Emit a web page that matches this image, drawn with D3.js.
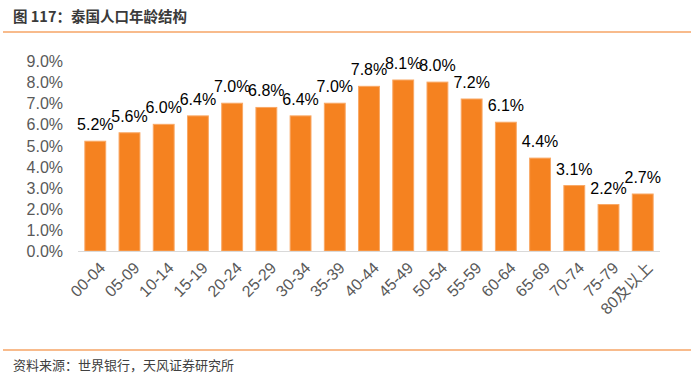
<!DOCTYPE html>
<html><head><meta charset="utf-8">
<script src="https://cdn.jsdelivr.net/npm/d3@7"></script>
<style>body{margin:0;background:#fff}svg{display:block}</style>
</head><body><svg id="c" width="700" height="379"></svg>
<script>
const categories = ["00-04","05-09","10-14","15-19","20-24","25-29","30-34","35-39","40-44","45-49","50-54","55-59","60-64","65-69","70-74","75-79","80及以上"];
const values = [5.2,5.6,6.0,6.4,7.0,6.8,6.4,7.0,7.8,8.1,8.0,7.2,6.1,4.4,3.1,2.2,2.7];
const yTicks = [0,1,2,3,4,5,6,7,8,9];
const title = "图 117：泰国人口年龄结构";
const source = "资料来源：世界银行，天风证券研究所";

const svg = d3.select("#c");
const latin = "'Liberation Sans', Arial, 'Noto Sans CJK SC', sans-serif";
const cjk = "'Noto Sans CJK SC', 'Liberation Sans', sans-serif";

// header / footer
svg.append("text").attr("x",13).attr("y",22).attr("font-family",cjk).attr("font-weight","bold")
  .attr("font-size",14.5).attr("fill","#3a3a3a").text(title);
svg.append("line").attr("x1",3).attr("x2",691).attr("y1",32).attr("y2",32).attr("stroke","#F6A466").attr("stroke-width",1.5);
svg.append("line").attr("x1",3).attr("x2",691).attr("y1",350).attr("y2",350).attr("stroke","#F6A466").attr("stroke-width",1.5);
svg.append("text").attr("x",13).attr("y",370).attr("font-family",cjk)
  .attr("font-size",13).attr("fill","#404040").text(source);

const x = d3.scaleBand().domain(categories).range([78,660]).paddingInner(0.39).paddingOuter(0.2);
const y = d3.scaleLinear().domain([0,9]).range([251,61]);

// y axis
const ya = svg.append("g").attr("transform","translate(63,0)")
  .call(d3.axisLeft(y).tickValues(yTicks).tickSize(0).tickPadding(0).tickFormat(d=>d3.format(".1f")(d)+"%"));
ya.select(".domain").remove();
ya.selectAll("text").attr("font-family",latin).attr("font-size",16).attr("fill","#595959").attr("dy","0.35em");

// bars
svg.append("g").selectAll("rect").data(values).join("rect")
  .attr("x",(d,i)=>x(categories[i])).attr("width",x.bandwidth())
  .attr("y",d=>y(d)).attr("height",d=>y(0)-y(d))
  .attr("fill","#F58220").attr("stroke","#F9A865").attr("stroke-width",1);

// baseline
svg.append("line").attr("x1",78).attr("x2",660).attr("y1",y(0)+0.5).attr("y2",y(0)+0.5).attr("stroke","#D9D9D9").attr("stroke-width",1.2);

// data labels
svg.append("g").selectAll("text").data(values).join("text")
  .attr("x",(d,i)=>x(categories[i])+x.bandwidth()/2).attr("y",d=>y(d)-11)
  .attr("text-anchor","middle").attr("font-family",latin).attr("font-size",16).attr("fill","#000")
  .text(d=>d3.format(".1f")(d)+"%");

// x axis labels
svg.append("g").selectAll("text").data(categories).join("text")
  .attr("transform",d=>`translate(${x(d)+x.bandwidth()/2+7},${y(0)+14}) rotate(-45)`)
  .attr("text-anchor","end").attr("font-family",latin).attr("font-size",16).attr("fill","#595959")
  .attr("dy","0.35em").text(d=>d);
</script></body></html>
